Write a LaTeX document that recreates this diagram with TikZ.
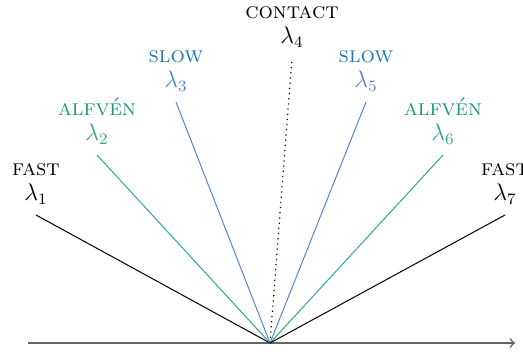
\documentclass[tikz,border=0pt]{standalone}
\usepackage{amsmath}
\usepackage{xcolor}
\definecolor{slowtext}{RGB}{31,119,180}
\definecolor{slowline}{RGB}{84,134,208}
\definecolor{alftext}{RGB}{24,148,118}
\definecolor{alfline}{RGB}{48,166,138}
\usetikzlibrary{positioning}

\begin{document}
\begin{tikzpicture}[x=0.5pt,y=0.5pt,
    wave/.style={inner sep=0pt, font=\large},
    kind/.style={inner sep=0pt, font=\fontsize{11.3}{13}\selectfont\scshape},
    fan/.style={line width=0.5pt}]
    \useasboundingbox (0,0) rectangle (523,353);
    \coordinate (o)  at (270,10);
    \coordinate (a0) at (28,10);
    \coordinate (a1) at (515,10);
    \coordinate (e1) at (36,138);
    \coordinate (e2) at (97,198);
    \coordinate (e3) at (176,251);
    \coordinate (e4) at (292,295);
    \coordinate (e5) at (366,251);
    \coordinate (e6) at (443,198);
    \coordinate (e7) at (505,138);
    % axis
    \draw [->, line width=0.8pt, black!60] (a0) -- (a1);
    % characteristics
    \draw [fan]                      (o) -- (e1);
    \draw [fan, alfline]             (o) -- (e2);
    \draw [fan, slowline]            (o) -- (e3);
    \draw [line width=0.6pt, dotted] (o) -- (e4);
    \draw [fan, slowline]            (o) -- (e5);
    \draw [fan, alfline]             (o) -- (e6);
    \draw [fan]                      (o) -- (e7);
    % labels
    \node[wave, above=5pt of e1]           (l1) {$\lambda_1$};
    \node[wave, above=5pt of e2, alfline]  (l2) {$\lambda_2$};
    \node[wave, above=5pt of e3, slowline] (l3) {$\lambda_3$};
    \node[wave, above=5pt of e4]           (l4) {$\lambda_4$};
    \node[wave, above=5pt of e5, slowline] (l5) {$\lambda_5$};
    \node[wave, above=5pt of e6, alfline]  (l6) {$\lambda_6$};
    \node[wave, above=5pt of e7]           (l7) {$\lambda_7$};
    \node[kind, above=4pt of l1]           (k1) {fast};
    \node[kind, above=4pt of l2, alftext]  (k2) {alfvén};
    \node[kind, above=4pt of l3, slowtext] (k3) {slow};
    \node[kind, above=4pt of l4]           (k4) {contact};
    \node[kind, above=4pt of l5, slowtext] (k5) {slow};
    \node[kind, above=4pt of l6, alftext]  (k6) {alfvén};
    \node[kind, above=4pt of l7]           (k7) {fast};
\end{tikzpicture}
\end{document}
